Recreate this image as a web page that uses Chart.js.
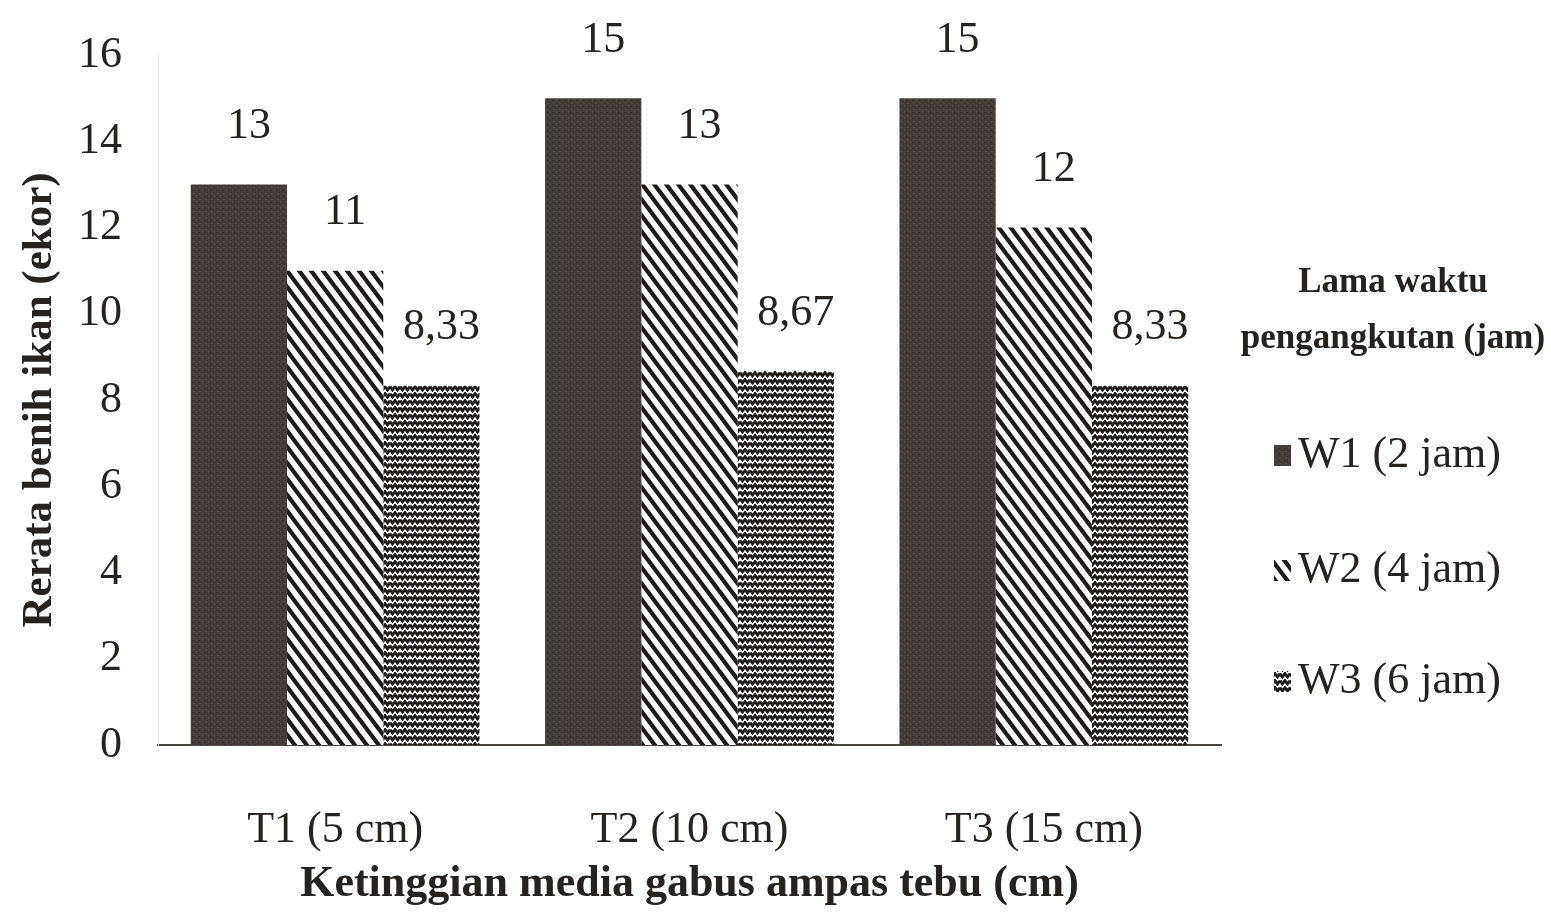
<!DOCTYPE html>
<html>
<head>
<meta charset="utf-8">
<script src="https://cdn.jsdelivr.net/npm/chart.js@4.4.1/dist/chart.umd.min.js"></script>
<style>
  body { margin: 0; background: #fff; }
  #wrap { width: 1551px; height: 924px; }
</style>
</head>
<body>
<div id="wrap"><canvas id="chart" width="1551" height="924"></canvas></div>
<script>
// data
var categories = ["T1 (5 cm)", "T2 (10 cm)", "T3 (15 cm)"];
var seriesNames = ["W1 (2 jam)", "W2 (4 jam)", "W3 (6 jam)"];
var w1Values = [13, 15, 15];
var w2Values = [11, 13, 12];
var w3Values = [8.33, 8.67, 8.33];
var yMax = 16;
var yStep = 2;
var legendTitle = ["Lama waktu", "pengangkutan (jam)"];
var xTitle = "Ketinggian media gabus ampas tebu (cm)";
var yTitle = "Rerata benih ikan (ekor)";

var serif = "'Liberation Serif', 'Times New Roman', serif";
var ink = "#262220";

// fill patterns
function makeTile(w, h, draw) {
  var c = document.createElement("canvas");
  c.width = w; c.height = h;
  var g = c.getContext("2d");
  draw(g, w, h);
  return document.createElement("canvas").getContext("2d").createPattern(c, "repeat");
}

var darkFill = makeTile(6, 6, function (g, w, h) {
  g.fillStyle = "#433c38";
  g.fillRect(0, 0, w, h);
  g.fillStyle = "#544d48";
  g.fillRect(1, 1, 2, 1);
  g.fillRect(4, 3, 1, 2);
  g.fillStyle = "#35302c";
  g.fillRect(3, 0, 1, 1);
  g.fillRect(0, 4, 2, 1);
});

var stripeFill = makeTile(12, 16, function (g, w, h) {
  g.fillStyle = "#fff";
  g.fillRect(0, 0, w, h);
  g.strokeStyle = "#1e1a18";
  g.lineWidth = 4.2;
  for (var k = -1; k <= 1; k++) {
    g.beginPath();
    g.moveTo(k * w - w, -h);
    g.lineTo(k * w + 2 * w, 2 * h);
    g.stroke();
  }
});

var waveFill = makeTile(10, 7, function (g, w, h) {
  g.fillStyle = "#fff";
  g.fillRect(0, 0, w, h);
  g.strokeStyle = "#1e1a18";
  g.lineWidth = 2.8;
  g.beginPath();
  g.moveTo(0, 1.5);
  g.lineTo(2.5, 5);
  g.lineTo(5, 1.5);
  g.lineTo(7.5, 5);
  g.lineTo(10, 1.5);
  g.stroke();
});

var fills = [darkFill, stripeFill, waveFill];

// value labels over bars, comma decimal
var valueLabels = {
  id: "valueLabels",
  afterDatasetsDraw: function (chart) {
    var ctx = chart.ctx;
    ctx.save();
    ctx.font = "44px " + serif;
    ctx.fillStyle = ink;
    ctx.textAlign = "center";
    ctx.textBaseline = "middle";
    chart.data.datasets.forEach(function (ds, i) {
      chart.getDatasetMeta(i).data.forEach(function (bar, j) {
        var txt = String(ds.data[j]).replace(".", ",");
        ctx.fillText(txt, bar.x + 10, bar.y - 58);
      });
    });
    ctx.restore();
  }
};

// legend on the right
var sideLegend = {
  id: "sideLegend",
  afterDraw: function (chart) {
    var ctx = chart.ctx;
    ctx.save();
    ctx.fillStyle = ink;
    ctx.textAlign = "center";
    ctx.textBaseline = "middle";
    ctx.font = "bold 35px " + serif;
    ctx.fillText(legendTitle[0], 1393, 283);
    ctx.fillText(legendTitle[1], 1393, 339);
    var rows = [455, 570, 681];
    ctx.font = "44px " + serif;
    ctx.textAlign = "left";
    chart.data.datasets.forEach(function (ds, i) {
      ctx.fillStyle = ds.backgroundColor;
      ctx.fillRect(1274, rows[i] - 10, 17, 21);
      ctx.fillStyle = ink;
      ctx.fillText(ds.label, 1298, rows[i]);
    });
    ctx.restore();
  }
};

var ctx0 = document.getElementById("chart");
var myChart = new Chart(ctx0, {
  type: "bar",
  data: {
    labels: categories,
    datasets: [
      { label: seriesNames[0], data: w1Values, backgroundColor: fills[0] },
      { label: seriesNames[1], data: w2Values, backgroundColor: fills[1] },
      { label: seriesNames[2], data: w3Values, backgroundColor: fills[2] }
    ]
  },
  options: {
    responsive: false,
    animation: false,
    layout: { padding: { top: 55, right: 330, left: 0, bottom: 0 } },
    datasets: { bar: { categoryPercentage: 0.815, barPercentage: 1.0, borderWidth: 0 } },
    plugins: {
      legend: { display: false },
      tooltip: { enabled: false }
    },
    scales: {
      x: {
        grid: { display: false },
        border: { display: true, color: "#4a4542", width: 2 },
        ticks: { color: ink, font: { family: serif, size: 44 }, padding: 51 },
        title: {
          display: true, text: xTitle, color: ink,
          font: { family: serif, size: 44, weight: "bold" },
          padding: { top: 13, bottom: 13 }
        },
        afterFit: function (scale) { scale.height = 179; }
      },
      y: {
        min: 0, max: yMax,
        grid: { display: false },
        border: { display: true, color: "#e4e4e4", width: 1 },
        ticks: { stepSize: yStep, color: ink, font: { family: serif, size: 44 }, padding: 28 },
        title: {
          display: true, text: yTitle, color: ink,
          font: { family: serif, size: 43, weight: "bold" },
          padding: { top: 14, bottom: 14 }
        },
        afterFit: function (scale) { scale.width = 158; }
      }
    }
  },
  plugins: [valueLabels, sideLegend]
});
</script>
</body>
</html>
